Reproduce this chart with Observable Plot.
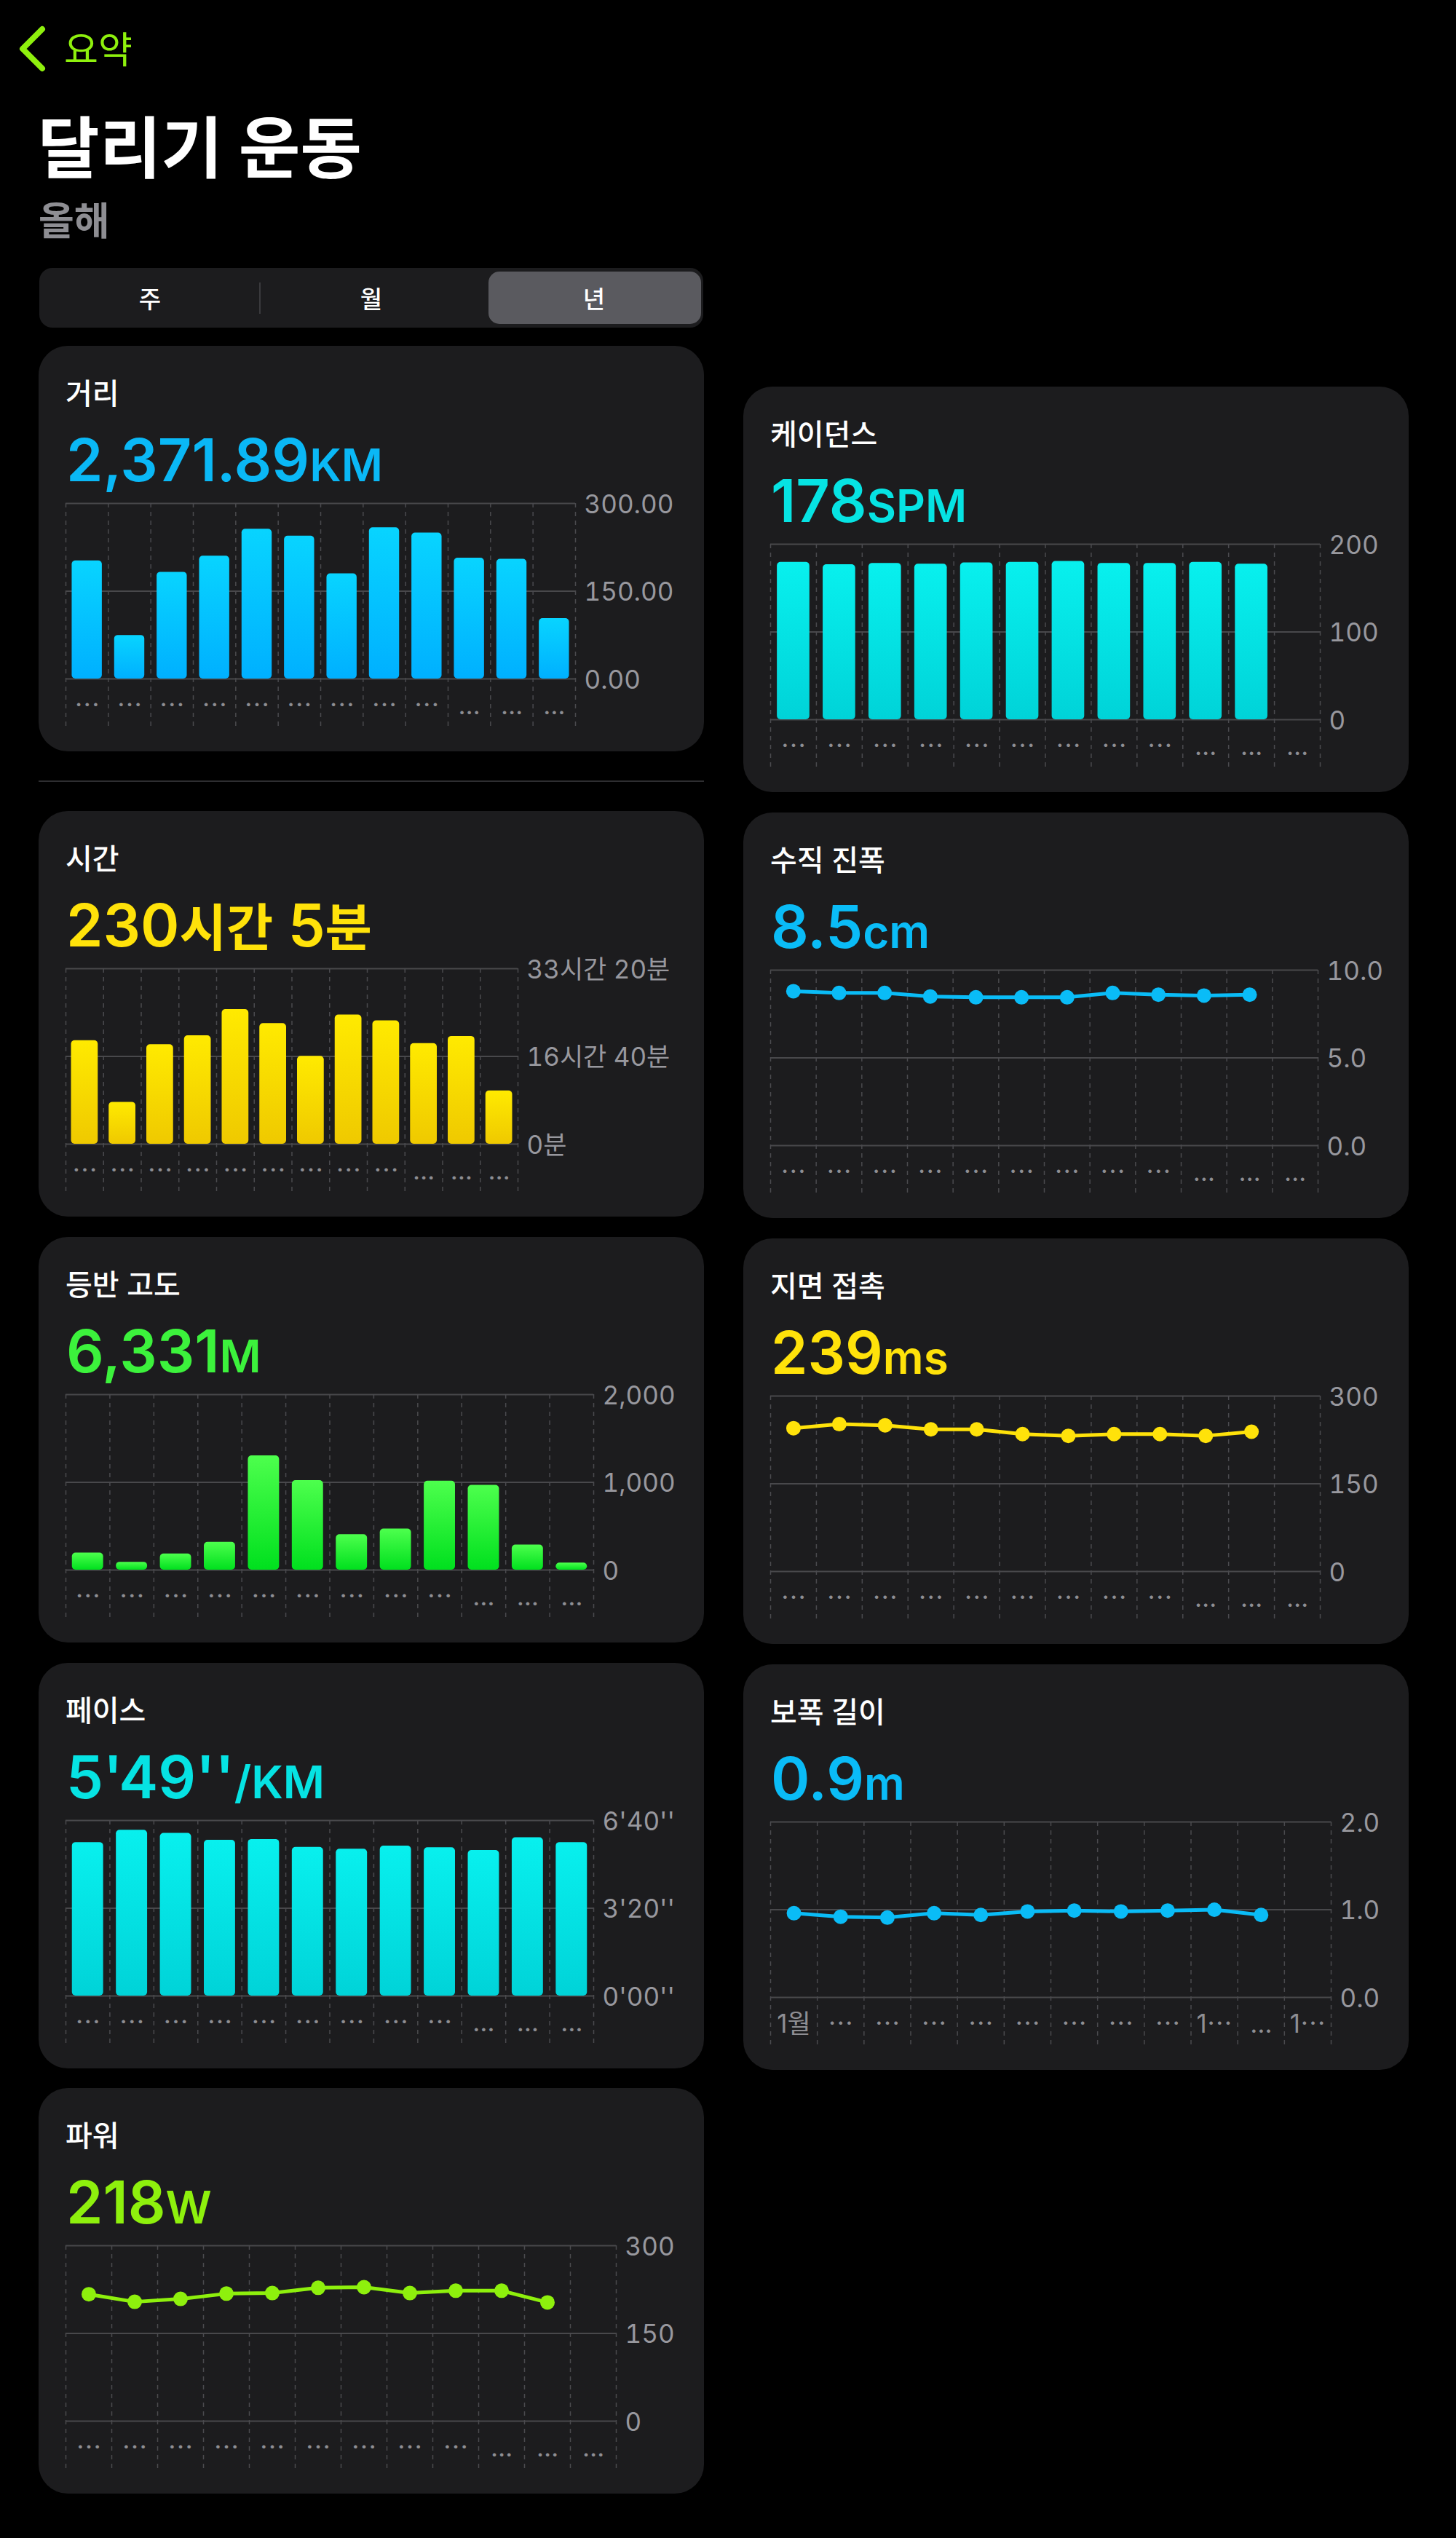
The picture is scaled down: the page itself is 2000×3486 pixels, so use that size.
<!DOCTYPE html>
<html lang="ko">
<head>
<meta charset="utf-8">
<script src="https://cdn.jsdelivr.net/npm/d3@7"></script>
<script src="https://cdn.jsdelivr.net/npm/@observablehq/plot@0.6"></script>
<style>
  html, body { margin: 0; padding: 0; background: #000; }
  body { width: 2000px; height: 3486px; position: relative; overflow: hidden;
         font-family: Inter, "Noto Sans CJK KR", sans-serif; }
  .card { position: absolute; width: 914px; height: 557px; background: #1c1c1e; border-radius: 40px; }
  .card > svg { position: absolute; left: 0; }
  .sep { position: absolute; left: 53px; top: 1072px; width: 914px; height: 2px; background: #2e2e31; }
</style>
</head>
<body>
<script>
const FONT = 'Inter, "Noto Sans CJK KR", sans-serif';
const LIME = "#8ef00d";

// Monthly values, January to December (this year)
const distanceKm      = [202.0, 74.5, 182.5, 210.0, 256.2, 244.2, 179.8, 258.5, 249.6, 206.5, 204.7, 103.39];
const durationMin     = [1180, 478, 1135, 1237, 1535, 1376, 1002, 1472, 1406, 1147, 1229, 608];
const elevationM      = [195, 90, 185, 318, 1302, 1020, 405, 468, 1014, 967, 287, 80];
const paceSec         = [350, 378, 371, 355, 357, 339, 335, 342, 338, 332, 361, 350];
const powerW          = [217, 204, 209, 218, 219, 228, 229, 219, 223, 223, 203];
const cadenceSpm      = [179.5, 176.8, 178.3, 177.4, 178.9, 179.5, 180.4, 178.3, 178.3, 179.5, 177.4];
const verticalOscCm   = [8.8, 8.7, 8.7, 8.5, 8.45, 8.45, 8.45, 8.7, 8.6, 8.55, 8.6];
const groundContactMs = [245, 252, 250, 243, 243, 235, 232, 235, 235, 232, 239];
const strideM         = [0.96, 0.92, 0.91, 0.96, 0.94, 0.98, 0.99, 0.98, 0.99, 1.00, 0.94];

// Yearly averages shown in the card headers
const avgCadence = 178;
const avgVerticalOsc = "8.5";
const avgGroundContact = 239;
const avgPaceSec = 349;
const avgStride = "0.9";
const avgPower = 218;

// Month tick labels as they fit in each chart
const monthLabels = ["⋯", "⋯", "⋯", "⋯", "⋯", "⋯", "⋯", "⋯", "⋯", "…", "…", "…"];
const monthLabelsWide = ["1월", "⋯", "⋯", "⋯", "⋯", "⋯", "⋯", "⋯", "⋯", "1⋯", "…", "1⋯"];

// Y tick values
const distanceTicks = [0, 150, 300];
const durationTicks = [0, 1000, 2000];
const elevationTicks = [0, 1000, 2000];
const paceTicks = [0, 200, 400];
const powerTicks = [0, 150, 300];
const cadenceTicks = [0, 100, 200];
const verticalTicks = [0, 5, 10];
const groundTicks = [0, 150, 300];
const strideTicks = [0, 1, 2];

const fmtHM = m => {
  const h = Math.floor(m / 60), mm = Math.round(m % 60);
  return h === 0 ? `${mm}분` : `${h}시간 ${mm}분`;
};
const fmtPace = s => `${Math.floor(s / 60)}'${String(Math.round(s % 60)).padStart(2, "0")}''`;

const totalDistance = d3.sum(distanceKm);
const totalDuration = d3.sum(durationMin);
const totalElevation = d3.sum(elevationM);

const cards = [
  {id: "distance", left: 53, top: 475, title: "거리", type: "bar", values: distanceKm,
   value: [[d3.format(",.2f")(totalDistance), 81], ["KM", 62]], color: "#0ab8f6",
   grad: ["#08d4ff", "#00b0ff"], yTicks: distanceTicks, fmt: d3.format(".2f"), mr: 177, labels: monthLabels},
  {id: "cadence", left: 1021, top: 531, title: "케이던스", type: "bar", values: cadenceSpm,
   value: [[String(avgCadence), 81], ["SPM", 62]], color: "#06e3e3",
   grad: ["#08f0ee", "#00d3d8"], yTicks: cadenceTicks, fmt: d => String(d), mr: 122, labels: monthLabels},
  {id: "duration", left: 53, top: 1114, title: "시간", type: "bar", values: durationMin,
   value: [[String(Math.floor(totalDuration / 60)), 81], ["시간", 70], [" " + (totalDuration % 60), 81], ["분", 70]], color: "#ffe20a",
   grad: ["#ffea00", "#efc900"], yTicks: durationTicks, fmt: fmtHM, mr: 256, labels: monthLabels},
  {id: "vertical", left: 1021, top: 1116, title: "수직 진폭", type: "line", values: verticalOscCm,
   value: [[avgVerticalOsc, 81], ["cm", 62]], color: "#0abcf7",
   yTicks: verticalTicks, fmt: d3.format(".1f"), mr: 125, labels: monthLabels},
  {id: "elevation", left: 53, top: 1699, title: "등반 고도", type: "bar", values: elevationM,
   value: [[d3.format(",")(totalElevation), 81], ["M", 62]], color: "#3cf23c",
   grad: ["#4dff4d", "#00e01e"], yTicks: elevationTicks, fmt: d3.format(","), mr: 152, labels: monthLabels},
  {id: "ground", left: 1021, top: 1701, title: "지면 접촉", type: "line", values: groundContactMs,
   value: [[String(avgGroundContact), 81], ["ms", 62]], color: "#ffe20a",
   yTicks: groundTicks, fmt: d => String(d), mr: 122, labels: monthLabels},
  {id: "pace", left: 53, top: 2284, title: "페이스", type: "bar", values: paceSec,
   value: [[fmtPace(avgPaceSec), 81], ["/KM", 62]], color: "#06e3e3",
   grad: ["#08f0ee", "#00d3d8"], yTicks: paceTicks, fmt: fmtPace, mr: 152, labels: monthLabels},
  {id: "stride", left: 1021, top: 2286, title: "보폭 길이", type: "line", values: strideM,
   value: [[avgStride, 81], ["m", 62]], color: "#0abcf7",
   yTicks: strideTicks, fmt: d3.format(".1f"), mr: 107, labels: monthLabelsWide},
  {id: "power", left: 53, top: 2868, title: "파워", type: "line", values: powerW,
   value: [[String(avgPower), 81], ["W", 62]], color: LIME,
   yTicks: powerTicks, fmt: d => String(d), mr: 121, labels: monthLabels},
];

// ---- page header ----
const head = d3.select("body").append("svg")
  .attr("width", 2000).attr("height", 470)
  .style("position", "absolute").style("left", 0).style("top", 0)
  .style("font-family", FONT);

head.append("polyline").attr("points", "58,40 31,67 58,94")
  .attr("fill", "none").attr("stroke", LIME).attr("stroke-width", 8)
  .attr("stroke-linecap", "round").attr("stroke-linejoin", "round");
head.append("text").attr("x", 88).attr("y", 87).attr("font-size", 51)
  .attr("fill", LIME).text("요약");
head.append("text").attr("x", 52).attr("y", 237).attr("font-size", 92)
  .attr("font-weight", 700).attr("fill", "#fff").text("달리기 운동");
head.append("text").attr("x", 53).attr("y", 323).attr("font-size", 53)
  .attr("font-weight", 600).attr("fill", "#8e8e93").text("올해");

// segmented period control
head.append("rect").attr("x", 54).attr("y", 368).attr("width", 912).attr("height", 82)
  .attr("rx", 18).attr("fill", "#1c1c1e");
head.append("rect").attr("x", 671).attr("y", 373).attr("width", 292).attr("height", 72)
  .attr("rx", 15).attr("fill", "#5a5a5f");
head.append("line").attr("x1", 357).attr("x2", 357).attr("y1", 388).attr("y2", 431)
  .attr("stroke", "#3a3a3d").attr("stroke-width", 2);
[["주", 206], ["월", 510], ["년", 816]].forEach(([t, x]) => {
  head.append("text").attr("x", x).attr("y", 423).attr("text-anchor", "middle")
    .attr("font-size", 33).attr("font-weight", 500).attr("fill", "#fff").text(t);
});

d3.select("body").append("div").attr("class", "sep");

// ---- metric cards ----
function buildChart(spec) {
  const width = 914, height = 340;
  const marginLeft = 37, marginTop = 20, marginBottom = 79;
  const band = (width - marginLeft - spec.mr) / 12;
  const inset = band * 0.145;
  const ymax = spec.yTicks[spec.yTicks.length - 1];

  const marks = [
    Plot.ruleY(spec.yTicks, {stroke: "#48484b", strokeWidth: 2}),
    Plot.ruleX(d3.range(13), {stroke: "#4a4a4e", strokeWidth: 1.5, strokeDasharray: "6,6", insetBottom: -65})
  ];
  if (spec.type === "bar") {
    marks.push(Plot.rectY(spec.values, {
      x1: (d, i) => i, x2: (d, i) => i + 1, y1: 0, y2: d => d,
      insetLeft: inset, insetRight: inset, rx: 5, fill: `url(#${spec.id}-grad)`
    }));
  } else {
    marks.push(Plot.line(spec.values, {x: (d, i) => i + 0.5, y: d => d, stroke: spec.color, strokeWidth: 5}));
    marks.push(Plot.dot(spec.values, {x: (d, i) => i + 0.5, y: d => d, r: 10, fill: spec.color}));
  }
  marks.push(Plot.axisY({
    ticks: spec.yTicks, anchor: "right", tickSize: 0, tickPadding: 12, tickFormat: spec.fmt,
    fontSize: 35, color: "#98989e", label: null, dy: 2
  }));
  marks.push(Plot.text(spec.labels, {
    x: (d, i) => i + 0.5, text: d => d, frameAnchor: "bottom", dy: 48, fontSize: 35, fill: "#8e8e93"
  }));

  const svg = Plot.plot({
    width, height, marginLeft, marginRight: spec.mr, marginTop, marginBottom,
    x: {domain: [0, 12], axis: null},
    y: {domain: [0, ymax]},
    style: {background: "transparent", color: "#98989e", fontFamily: FONT},
    marks
  });

  if (spec.grad) {
    const defs = d3.select(svg).insert("defs", ":first-child");
    const g = defs.append("linearGradient").attr("id", `${spec.id}-grad`)
      .attr("x1", 0).attr("y1", 0).attr("x2", 0).attr("y2", 1);
    g.append("stop").attr("offset", "0%").attr("stop-color", spec.grad[0]);
    g.append("stop").attr("offset", "100%").attr("stop-color", spec.grad[1]);
  }
  return svg;
}

cards.forEach(spec => {
  const card = d3.select("body").append("div").attr("class", "card")
    .style("left", spec.left + "px").style("top", spec.top + "px");

  const svg = buildChart(spec);
  svg.style.position = "absolute";
  svg.style.top = "196px";
  svg.style.left = "0px";
  card.node().appendChild(svg);

  const hdr = card.append("svg").attr("width", 914).attr("height", 230)
    .style("top", "0px").style("font-family", FONT).style("pointer-events", "none");
  hdr.append("text").attr("x", 37).attr("y", 80).attr("font-size", 40)
    .attr("font-weight", 500).attr("fill", "#fff").text(spec.title);
  const v = hdr.append("text").attr("x", 38).attr("y", 186).attr("fill", spec.color)
    .attr("font-weight", 600).style("white-space", "pre");
  spec.value.forEach(([t, size]) => {
    v.append("tspan").attr("font-size", size).attr("font-weight", /[가-힣]/.test(t) ? 700 : 600).text(t);
  });
});
</script>
</body>
</html>
